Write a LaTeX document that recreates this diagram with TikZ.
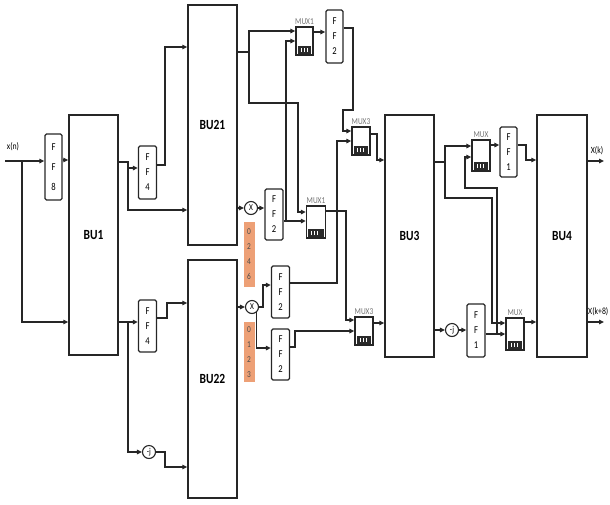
\documentclass[tikz,border=0pt]{standalone}
\usepackage{fontspec}
\setmainfont{Carlito}[FakeStretch=0.82]
\usetikzlibrary{arrows.meta,calc}
\definecolor{orng}{HTML}{EDA076}
\definecolor{muxdark}{HTML}{2A2A2A}
\begin{document}
\begin{tikzpicture}[x=1pt,y=-1pt,
  line/.style={line width=1.4pt, draw=black!85},
  arr/.style={line, -{Triangle[length=5pt,width=4.5pt]}},
  bu/.style={draw=black!85, line width=1.5pt, minimum width=49pt, inner sep=0pt, font=\bfseries\fontsize{14}{16}\selectfont},
  ff/.style={draw=black!85, line width=1.3pt, rounded corners=1.5pt, minimum width=18pt, inner sep=0pt, align=center, font=\fontsize{10.5}{15}\selectfont},
  mux/.style={draw=black!85, line width=1.3pt, fill=white, minimum width=18pt, inner sep=0pt,
    path picture={\fill[muxdark] ([shift={(1.8pt,1.5pt)}]path picture bounding box.south west) rectangle ([shift={(-1.8pt,9pt)}]path picture bounding box.south east);
      \draw[white, line width=0.6pt] ([shift={(5pt,3pt)}]path picture bounding box.south west) -- ++(0,4pt)
        ([shift={(8pt,3pt)}]path picture bounding box.south west) -- ++(0,4pt)
        ([shift={(11pt,3pt)}]path picture bounding box.south west) -- ++(0,4pt);}},
  muxlbl/.style={font=\fontsize{9}{10}\selectfont, text=black!55, inner sep=1.5pt},
  op/.style={circle, draw=black!85, line width=1.1pt, minimum size=13pt, inner sep=0pt, font=\fontsize{9}{10}\selectfont},
  obox/.style={fill=orng, minimum width=11pt, inner sep=0pt, align=center, font=\fontsize{9}{15}\selectfont, text=black!70},
  lbl/.style={font=\fontsize{9.5}{10}\selectfont, inner sep=0pt}
]
\useasboundingbox (0,0) rectangle (610,504);

% butterfly units
\node[bu, minimum height=240pt] (BU1) at (93.5,235) {BU1};
\node[bu, minimum height=240pt] (BU21) at (212.5,125) {BU21};
\node[bu, minimum height=238pt] (BU22) at (212.5,379) {BU22};
\node[bu, minimum height=242pt] (BU3) at (409.5,236) {BU3};
\node[bu, minimum height=242pt, minimum width=50pt] (BU4) at (562,236) {BU4};

% flip-flops
\node[ff, minimum width=17pt, minimum height=66pt, font=\fontsize{10.5}{20}\selectfont] (FF8) at (53.5,167) {F\\F\\8};
\node[ff, minimum height=53pt] (FF4a) at (147.5,172.5) {F\\F\\4};
\node[ff, minimum height=52pt] (FF4b) at (147.5,326) {F\\F\\4};
\node[ff, minimum width=17pt, minimum height=53pt] (FF2a) at (334.5,36.5) {F\\F\\2};
\node[ff, minimum height=51pt] (FF2m) at (274,214.5) {F\\F\\2};
\node[ff, minimum height=52pt] (FF2b) at (280.5,292) {F\\F\\2};
\node[ff, minimum height=51pt] (FF2c) at (280.5,354.5) {F\\F\\2};
\node[ff, minimum width=17pt, minimum height=50pt] (FF1a) at (508.5,152) {F\\F\\1};
\node[ff, minimum height=53pt] (FF1b) at (476,330.5) {F\\F\\1};

% multiplexers
\node[mux, minimum width=17pt, minimum height=28pt, label={[muxlbl]above:MUX1}] (MUX1a) at (304.5,41) {};
\node[mux, minimum width=19pt, minimum height=32pt, label={[muxlbl]above:MUX1}] (MUX1m) at (316,222) {};
\node[mux, minimum height=28pt, label={[muxlbl]above:MUX3}] (MUX3a) at (361,141) {};
\node[mux, minimum height=28pt, label={[muxlbl]above:MUX3}] (MUX3b) at (364,331) {};
\node[mux, minimum height=31pt, label={[muxlbl]above:MUX}] (MUXa) at (481,155.5) {};
\node[mux, minimum height=32pt, label={[muxlbl]above:MUX}] (MUXb) at (515,334) {};

% multipliers
\node[op] (Xa) at (251,208) {X};
\node[op] (Xb) at (252,307) {X};
\node[op] (Ja) at (149,452) {-j};
\node[op] (Jb) at (452,330) {-j};

% twiddle index boxes
\node[obox, minimum height=65pt] (OA) at (249,254.5) {0\\2\\4\\6};
\node[obox, minimum height=60pt] (OB) at (249,352) {0\\1\\2\\3};

% texts
\node[lbl] (xn) at (13,147) {x(n)};
\node[lbl] (Xk) at (597,151) {X(k)};
\node[lbl, anchor=west] (Xk8) at (588,312) {X(k+8)};

\coordinate (xin) at (5,161);
\coordinate (yout1) at (604,161);
\coordinate (yout2) at (604,322);

% connectors
\draw[arr] (xin) -- (FF8.west |- xin);
\draw[arr] (22,161) |- (BU1.west |- 0,322);
\draw[arr] (FF8.east |- 0,160) -- (BU1.west |- 0,160);
\draw[arr] (BU1.east |- 0,162) -- (128,162) |- (FF4a.west |- 0,168);
\draw[arr] (128,162) |- (BU21.west |- 0,210);
\draw[arr] (FF4a.east |- 0,165) -- (165,165) |- (BU21.west |- 0,47);
\draw[arr] (BU1.east |- 0,322) -- (FF4b.west |- 0,322);
\draw[arr] (128,322) |- (Ja.west);
\draw[arr] (FF4b.east |- 0,318) -- (167,318) |- (BU22.west |- 0,303);
\draw[arr] (Ja.east) -- (165,452) |- (BU22.west |- 0,467);

\draw[arr] (BU21.east |- 0,52) -- (249,52) |- (MUX1a.west |- 0,31);
\draw[arr] (249,52) |- (298,103) -- (298,212) -- (MUX1m.west |- 0,212);
\draw[arr] (MUX1a.east |- 0,32) -- (FF2a.west |- 0,32);
\draw[arr] (FF2a.east |- 0,28) -- (353,28) -- (353,110) -- (343,110) |- (MUX3a.west |- 0,131);
\draw[arr] (BU21.east |- Xa) -- (Xa.west);
\draw[arr] (Xa.east) -- (FF2m.west |- Xa);
\draw[arr] (FF2m.east |- 0,221) -- (MUX1m.west |- 0,221);
\draw[arr] (286,221) |- (MUX1a.west |- 0,41);
\draw[arr] (MUX1m.east |- 0,211) -- (346,211) |- (MUX3b.west |- 0,320);

\draw[arr] (BU22.east |- Xb) -- (Xb.west);
\draw[arr] (Xb.east) -- (263,307) |- (FF2b.west |- 0,285);
\draw[arr] (Xb.-50) -- (Xb.-50 |- 0,348) -- (FF2c.west |- 0,348);
\draw[arr] (FF2b.east |- 0,283) -- (337,283) |- (MUX3a.west |- 0,141);
\draw[arr] (FF2c.east |- 0,347) -- (295,347) |- (MUX3b.west |- 0,331);
\draw[arr] (MUX3a.east |- 0,134) -- (377,134) |- (BU3.west |- 0,160);
\draw[arr] (MUX3b.east |- 0,323) -- (BU3.west |- 0,323);

\draw[arr] (BU3.east |- 0,162) -- (445,162) |- (MUXa.west |- 0,146);
\draw[arr] (445,162) |- (492,198) |- (MUXb.west |- 0,323);
\draw[arr] (BU3.east |- Jb) -- (Jb.west);
\draw[arr] (Jb.east) -- (FF1b.west |- Jb);
\draw[arr] (FF1b.east |- 0,334) -- (MUXb.west |- 0,334);
\draw[arr] (497,334) |- (465,188) |- (MUXa.west |- 0,157);
\draw[arr] (MUXa.east |- 0,145) -- (FF1a.west |- 0,145);
\draw[arr] (FF1a.east |- 0,145) -- (526,145) |- (BU4.west |- 0,160);
\draw[arr] (MUXb.east |- 0,322) -- (BU4.west |- 0,322);
\draw[arr] (BU4.east |- yout1) -- (yout1);
\draw[arr] (BU4.east |- yout2) -- (yout2);
\end{tikzpicture}
\end{document}
